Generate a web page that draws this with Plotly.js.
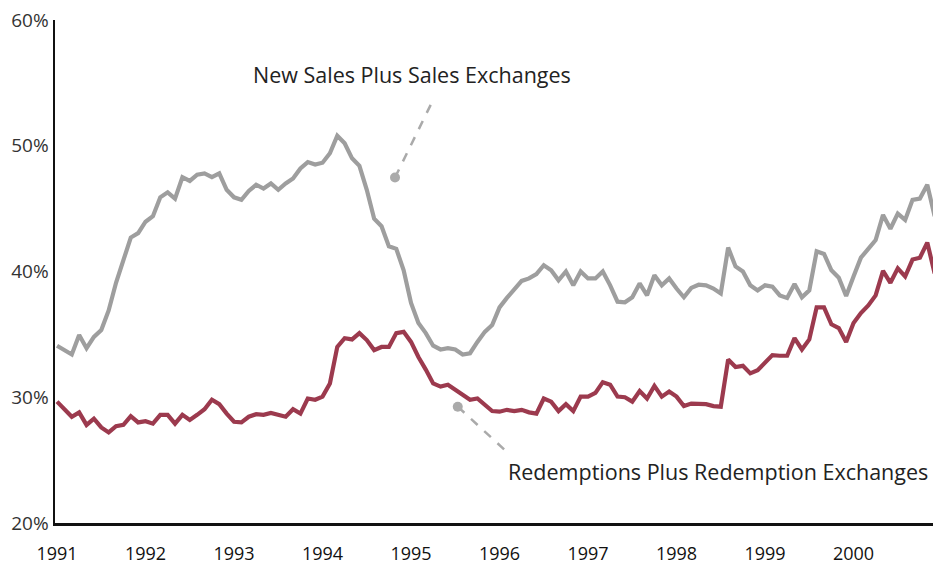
<!DOCTYPE html>
<html>
<head>
<meta charset="utf-8">
<script src="https://cdn.plot.ly/plotly-3.0.1.min.js"></script>
<style>html,body{margin:0;padding:0;background:#fff;}#chart{width:933px;height:565px;}</style>
</head>
<body>
<div id="chart"></div>
<script>
// Tick labels (years) and value ticks
const years = [1991, 1992, 1993, 1994, 1995, 1996, 1997, 1998, 1999, 2000];
const pctTicks = [20, 30, 40, 50, 60];

// Monthly observations, Jan 1991 - Dec 2000 (percent)
const newSalesPlusExchanges = [
  34.1, 33.7, 33.4, 34.95, 33.9, 34.8, 35.35, 36.9, 39.1, 40.9, 42.7, 43.05,
  43.96, 44.4, 45.9, 46.3, 45.8, 47.5, 47.2, 47.7, 47.8, 47.5, 47.8, 46.5,
  45.9, 45.7, 46.4, 46.9, 46.6, 47.0, 46.5, 47.0, 47.4, 48.2, 48.7, 48.5,
  48.65, 49.4, 50.8, 50.2, 49.0, 48.4, 46.5, 44.2, 43.6, 42.0, 41.8, 40.1,
  37.5, 35.9, 35.1, 34.1, 33.8, 33.9, 33.8, 33.4, 33.5, 34.4, 35.2, 35.75,
  37.15, 37.9, 38.6, 39.25, 39.45, 39.8, 40.5, 40.1, 39.3, 40.0, 38.9, 40.0,
  39.45, 39.45, 40.0, 38.9, 37.6, 37.55, 37.95, 39.05, 38.1, 39.7, 38.9, 39.45,
  38.65, 37.95, 38.7, 38.95, 38.9, 38.65, 38.25, 41.9, 40.4, 40.0, 38.9, 38.5,
  38.9, 38.8, 38.1, 37.9, 39.0, 37.95, 38.5, 41.6, 41.4, 40.1, 39.5, 38.05,
  39.6, 41.1, 41.8, 42.5, 44.5, 43.4, 44.6, 44.1, 45.7, 45.8, 46.9, 44.4
];
const redemptionsPlusExchanges = [
  29.65, 29.0, 28.45, 28.8, 27.8, 28.3, 27.6, 27.2, 27.7, 27.8, 28.5, 28.0,
  28.1, 27.9, 28.6, 28.6, 27.9, 28.6, 28.2, 28.6, 29.05, 29.8, 29.45, 28.7,
  28.05, 28.0, 28.45, 28.65, 28.6, 28.75, 28.6, 28.45, 29.05, 28.7, 29.9, 29.8,
  30.05, 31.1, 34.0, 34.7, 34.6, 35.1, 34.55, 33.75, 34.0, 34.0, 35.1, 35.2,
  34.4, 33.2, 32.2, 31.1, 30.85, 31.0, 30.6, 30.2, 29.8, 29.9, 29.45, 28.9,
  28.85, 29.0, 28.9, 29.0, 28.8, 28.7, 29.9, 29.65, 28.9, 29.45, 28.9, 30.05,
  30.05, 30.35, 31.2, 31.0, 30.05, 30.0, 29.65, 30.5, 29.9, 30.9, 30.05, 30.45,
  30.05, 29.3, 29.5, 29.5, 29.45, 29.3, 29.25, 33.0, 32.4, 32.5, 31.9, 32.15,
  32.7, 33.35, 33.3, 33.3, 34.7, 33.8, 34.6, 37.15, 37.15, 35.8, 35.5, 34.4,
  35.9, 36.7, 37.3, 38.1, 40.05, 39.1, 40.25, 39.6, 40.95, 41.1, 42.3, 39.85
];

// month positions as fractional years
const months = newSalesPlusExchanges.map((_, i) => years[0] + i / 12);

const FONT = '"Open Sans", "Noto Sans", sans-serif';
const GRAY = '#9e9e9e';
const RED = '#9c3a4e';
const DASH = '#aaaaaa';

const traces = [
  { x: months, y: newSalesPlusExchanges, type: 'scatter', mode: 'lines',
    line: { color: GRAY, width: 4.2 }, hoverinfo: 'skip', name: 'New Sales Plus Sales Exchanges' },
  { x: months, y: redemptionsPlusExchanges, type: 'scatter', mode: 'lines',
    line: { color: RED, width: 4.2 }, hoverinfo: 'skip', name: 'Redemptions Plus Redemption Exchanges' }
];

function dot(x, y) {
  return { type: 'circle', xref: 'x', yref: 'y', xsizemode: 'pixel', ysizemode: 'pixel',
    xanchor: x, yanchor: y, x0: -5, x1: 5, y0: -5, y1: 5,
    fillcolor: DASH, line: { width: 0 } };
}

const layout = {
  width: 933, height: 565,
  margin: { l: 55, r: 0, t: 20, b: 42 },
  paper_bgcolor: '#ffffff', plot_bgcolor: '#ffffff',
  showlegend: false,
  font: { family: FONT, color: '#222222' },
  xaxis: {
    range: [1990.977, 2000.898],
    tickvals: years, ticktext: years.map(String),
    showgrid: false, zeroline: false, ticks: '',
    showline: true, linecolor: '#111111', linewidth: 2.5,
    tickfont: { family: FONT, size: 18, color: '#111111' },
    ticklabelstandoff: 13
  },
  yaxis: {
    range: [20, 60],
    tickvals: pctTicks, ticktext: pctTicks.map(v => v + '%'),
    showgrid: false, zeroline: false, ticks: '',
    showline: true, linecolor: '#111111', linewidth: 2.5,
    tickfont: { family: FONT, size: 19, color: '#333333' }
  },
  shapes: [
    { type: 'line', xref: 'x', yref: 'y', x0: 1994.819, y0: 47.47, x1: 1995.249, y1: 53.64,
      line: { color: DASH, width: 2.5, dash: 'dash' } },
    dot(1994.819, 47.47),
    { type: 'line', xref: 'x', yref: 'y', x0: 1995.528, y0: 29.25, x1: 1996.096, y1: 25.57,
      line: { color: DASH, width: 2.5, dash: 'dash' } },
    dot(1995.528, 29.25)
  ],
  annotations: [
    { x: 1995.011, y: 55.63, xref: 'x', yref: 'y', text: 'New Sales Plus Sales Exchanges',
      showarrow: false, xanchor: 'center', yanchor: 'middle',
      font: { family: FONT, size: 21.5, color: '#222222' } },
    { x: 2000.864, y: 24.06, xref: 'x', yref: 'y', text: 'Redemptions Plus Redemption Exchanges',
      showarrow: false, xanchor: 'right', yanchor: 'middle',
      font: { family: FONT, size: 21.5, color: '#222222' } }
  ]
};

Plotly.newPlot('chart', traces, layout, { staticPlot: true, displayModeBar: false });
</script>
</body>
</html>
